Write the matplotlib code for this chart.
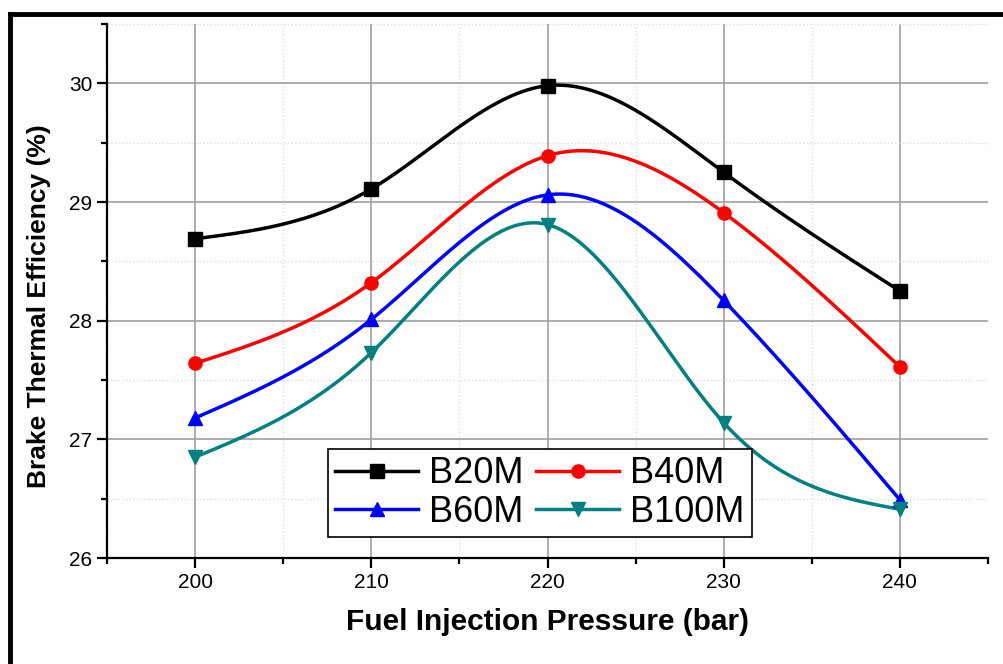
import matplotlib
matplotlib.use("Agg")
import matplotlib.pyplot as plt
from matplotlib.ticker import MultipleLocator
from matplotlib.lines import Line2D
import numpy as np

plt.rcParams['font.family'] = ['Liberation Sans', 'DejaVu Sans']

# data
pressure = [200, 210, 220, 230, 240]
b20m = [28.69, 29.11, 29.98, 29.25, 28.25]
b40m = [27.64, 28.32, 29.39, 28.91, 27.61]
b60m = [27.18, 28.01, 29.06, 28.17, 26.49]
b100m = [26.85, 27.73, 28.81, 27.14, 26.41]

series = [
    ("B20M", b20m, "black", "s"),
    ("B40M", b40m, "red", "o"),
    ("B60M", b60m, "blue", "^"),
    ("B100M", b100m, "#008080", "v"),
]


def natural_spline(x, y, n=300):
    # smooth curve through the points (natural cubic spline)
    x = np.asarray(x, float)
    y = np.asarray(y, float)
    m = len(x)
    h = np.diff(x)
    A = np.zeros((m, m))
    r = np.zeros(m)
    A[0, 0] = 1
    A[-1, -1] = 1
    for i in range(1, m - 1):
        A[i, i - 1] = h[i - 1]
        A[i, i] = 2 * (h[i - 1] + h[i])
        A[i, i + 1] = h[i]
        r[i] = 6 * ((y[i + 1] - y[i]) / h[i] - (y[i] - y[i - 1]) / h[i - 1])
    M = np.linalg.solve(A, r)
    xs = np.linspace(x[0], x[-1], n)
    ys = np.empty_like(xs)
    for k, t in enumerate(xs):
        i = min(np.searchsorted(x, t, side="right") - 1, m - 2)
        a = x[i + 1] - t
        b = t - x[i]
        ys[k] = (M[i] * a**3 + M[i + 1] * b**3) / (6 * h[i]) \
            + (y[i] / h[i] - M[i] * h[i] / 6) * a \
            + (y[i + 1] / h[i] - M[i + 1] * h[i] / 6) * b
    return xs, ys


fig = plt.figure(figsize=(10.04, 6.64), dpi=100)
ax = fig.add_axes([107 / 1004, 1 - 558 / 664, (988 - 107) / 1004, (558 - 24) / 664])

handles = {}
for name, vals, col, mk in series:
    xs, ys = natural_spline(pressure, vals)
    ax.plot(xs, ys, color=col, lw=2.5, zorder=3)
    ax.plot(pressure, vals, ls="none", marker=mk, color=col, ms=9.5, zorder=4)
    handles[name] = Line2D([], [], color=col, lw=2.5, marker=mk, ms=9.5, label=name)

ax.set_xlim(195, 245)
ax.set_ylim(26, 30.5)
ax.xaxis.set_major_locator(MultipleLocator(10))
ax.xaxis.set_minor_locator(MultipleLocator(5))
ax.yaxis.set_major_locator(MultipleLocator(1))
ax.yaxis.set_minor_locator(MultipleLocator(0.5))

ax.grid(which="major", color="#a0a0a0", lw=1.2, zorder=0)
ax.grid(which="minor", color="#dcdcdc", lw=1, ls=":", zorder=0)

ax.spines["top"].set_visible(False)
ax.spines["right"].set_visible(False)
ax.spines["left"].set_linewidth(1.6)
ax.spines["bottom"].set_linewidth(1.6)
ax.tick_params(which="major", direction="out", length=7, width=1.6, labelsize=15)
ax.tick_params(which="minor", direction="out", length=4, width=1.6)

ax.set_xlabel("Fuel Injection Pressure (bar)", fontsize=21.5, fontweight="bold", labelpad=12)
ax.set_ylabel("Brake Thermal Efficiency (%)", fontsize=19, fontweight="bold")
# the y label sits a bit below the axes centre in the original
ax.yaxis.set_label_coords(-0.063, 0.472)

# legend fills columns first: order so rows read B20M B40M / B60M B100M
order = ["B20M", "B60M", "B40M", "B100M"]
leg = ax.legend(handles=[handles[k] for k in order], ncol=2, loc="lower left",
                bbox_to_anchor=((328 - 107) / 881, (558 - 537) / 534),
                fontsize=26, frameon=True, fancybox=False, edgecolor="black",
                framealpha=1, handlelength=2.3, columnspacing=0.35,
                handletextpad=0.3, borderpad=0.2, labelspacing=0.1,
                borderaxespad=0)
leg.get_frame().set_linewidth(1.2)
leg.set_zorder(5)

# outer frame (only the left and top edges are visible in the picture)
fig.add_artist(Line2D([9.5 / 1004, 9.5 / 1004], [0, 1 - 13.5 / 664],
                      transform=fig.transFigure, color="black", lw=3.5))
fig.add_artist(Line2D([9.5 / 1004, 1], [1 - 13.5 / 664, 1 - 13.5 / 664],
                      transform=fig.transFigure, color="black", lw=3.5))

fig.savefig("out.png", dpi=100)
